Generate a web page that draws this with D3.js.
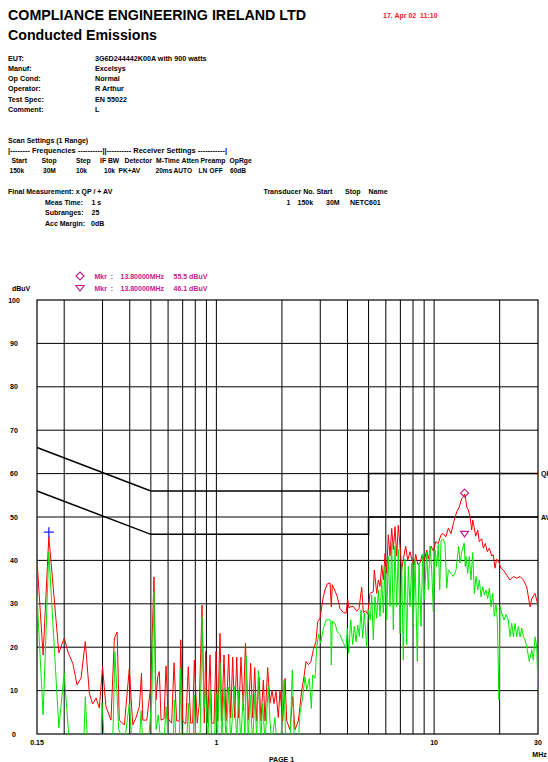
<!DOCTYPE html>
<html>
<head>
<meta charset="utf-8">
<script src="https://cdn.jsdelivr.net/npm/d3@7"></script>
<style>
  body { margin: 0; background: #fff; }
  svg text { font-family: "Liberation Sans", Arial, sans-serif; font-weight: bold; }
</style>
</head>
<body>
<svg id="page" width="548" height="762"></svg>
<script>
// header fields
var infoLabels = ["EUT:", "Manuf:", "Op Cond:", "Operator:", "Test Spec:", "Comment:"];
var infoValues = ["3G6D244442K00A with 900 watts", "Excelsys", "Normal", "R Arthur", "EN 55022", "L"];

// axis ticks
var yTicks = [0, 10, 20, 30, 40, 50, 60, 70, 80, 90, 100];
var xGridMHz = [0.2, 0.3, 0.4, 0.5, 0.6, 0.7, 0.8, 0.9, 1, 2, 3, 4, 5, 6, 7, 8, 9, 10, 20];
var xTickLabels = [0.15, 1, 10, 30];

// EN 55022 class B limits
var limitFreq = [0.15, 0.5, 5, 5, 30];
var qpLimit = [66, 56, 56, 60, 60];
var avLimit = [56, 46, 46, 50, 50];

// peak trace (red)
var pkFreq = [0.15,0.160,0.170,0.189,0.200,0.209,0.219,0.229,0.239,0.250,0.261,0.270,0.280,0.290,0.300,0.311,0.328,0.340,0.350,0.358,
  0.378,0.398,0.413,0.427,0.443,0.453,0.459,0.479,0.499,0.517,0.528,0.538,0.547,0.557,0.575,0.587,0.601,0.623,0.639,0.657,
  0.676,0.686,0.700,0.723,0.743,0.762,0.778,0.792,0.817,0.835,0.859,0.880,0.893,0.912,0.935,0.952,0.975,0.996,1.014,1.039,
  1.058,1.084,1.107,1.139,1.164,1.188,1.214,1.240,1.266,1.297,1.329,1.36,1.401,1.437,1.468,1.500,1.532,1.569,1.603,1.643,
  1.672,1.72,1.763,1.801,1.839,1.878,1.925,1.959,2.017,2.067,2.104,2.178,2.241,2.296,2.379,2.466,2.526,2.58,2.644,2.712,
  2.787,2.867,2.92,2.992,3.046,3.098,3.154,3.232,3.326,3.371,3.406,3.505,3.592,3.697,3.828,3.939,4.01,4.066,4.109,4.255,
  4.411,4.52,4.65,4.73,4.85,4.955,5.076,5.256,5.312,5.45,5.543,5.643,5.745,5.844,5.95,6.058,6.16,6.273,6.386,6.495,
  6.613,6.732,6.847,6.972,7.098,7.219,7.404,7.563,7.749,7.89,8.085,8.232,8.408,8.614,8.828,9.017,9.248,9.407,9.677,9.916,
  10.17,10.45,10.76,11.02,11.31,11.62,11.96,12.25,12.70,13.05,13.39,13.62,13.8,14.0,14.12,14.36,14.62,14.88,15.04,15.25,
  15.52,15.86,16.13,16.54,16.83,17.19,17.55,17.93,18.39,18.70,19.04,19.38,19.86,20.29,20.79,21.55,22.32,23.12,23.96,24.81,
  25.7,26.63,27.58,28.08,29.07,30];
var pkLevel = [40,18.2,45.5,18.7,22.1,18.6,16.3,11.3,12.9,21.3,9.4,6.9,8.3,6,15.5,6.3,3.2,22.1,23.5,3.2,
  2.1,15,2.1,3.7,6.3,14,3.2,3.2,10.9,36.2,7.8,13.2,14.4,3.2,3.5,15.7,3.5,2.5,16.4,3,
  3,21.7,3,2.3,15.5,2.5,2.5,17,2.5,7.1,29.7,2.5,19,2.5,18.2,2.5,2.5,19,3,23.2,
  3,18.2,3,18.4,3.7,17.7,3.7,17.7,3.7,17.7,5.5,20.9,3.2,16.3,3.7,15.3,3,13.2,3,12.4,
  3,15.3,7.1,10.1,7,9.8,3.8,10.1,3,12.8,3,1,8.6,1,3,10.1,13.2,16.7,16,16.5,
  19.4,21.3,25.9,26.6,29.3,31.6,33.2,34.6,34.8,29.3,34.4,33,31.6,28.9,28,27.8,31,29,29.3,29.4,
  28.3,28.9,33.8,28,28.4,27.6,32.4,32.8,37.8,32.4,35.5,34,38.9,35.5,41.6,37,45.9,41,47.4,42.5,
  47.8,41,48.1,43.3,37.8,40.3,43.3,40,42,40.3,39,41.4,39.1,39.4,41.4,39.9,42.4,40.3,43.3,42.2,
  44.3,43.9,45.9,46.2,45.4,47.4,46.2,48.5,51.2,52.3,54.3,54.6,55.3,53.8,52.3,51.6,50.1,47,49.3,47.8,
  45.6,47,44.3,45,42.8,43.9,42,42.8,41,41.3,38.2,40.3,39.5,38.2,37.8,36.6,35.5,36.3,35.9,36.3,
  35.5,33.9,29.3,31.2,32.4,29.6];

// average trace (green)
var avFreq = [0.15,0.160,0.170,0.189,0.200,0.211,0.246,0.250,0.256,0.295,0.298,0.306,0.334,0.342,0.356,0.378,0.398,0.410,0.443,0.451,
  0.459,0.487,0.505,0.517,0.528,0.541,0.555,0.575,0.587,0.601,0.634,0.641,0.652,0.676,0.686,0.695,0.731,0.743,0.756,0.783,
  0.792,0.806,0.841,0.859,0.877,0.893,0.912,0.935,0.952,0.98,0.996,1.01,1.039,1.058,1.084,1.107,1.139,1.164,1.209,1.240,
  1.266,1.293,1.329,1.353,1.37,1.401,1.427,1.468,1.504,1.532,1.558,1.598,1.632,1.672,1.731,1.763,1.796,1.858,1.893,1.974,
  2.045,2.082,2.178,2.232,2.28,2.379,2.421,2.492,2.553,2.6,2.672,2.73,2.77,2.838,2.89,2.951,3.014,3.098,3.189,3.267,
  3.351,3.371,3.406,3.505,3.592,3.697,3.828,3.939,3.993,4.053,4.14,4.227,4.3,4.378,4.458,4.535,4.616,4.699,4.78,4.902,
  4.986,5.093,5.168,5.256,5.352,5.45,5.543,5.643,5.745,5.844,5.95,6.058,6.16,6.273,6.386,6.495,6.613,6.732,6.847,6.972,
  7.098,7.219,7.35,7.484,7.613,7.749,7.89,8.025,8.172,8.372,8.524,8.706,8.865,9.017,9.248,9.407,9.575,9.748,9.916,10.1,
  10.28,10.45,10.61,10.76,11.02,11.22,11.43,11.62,11.96,12.25,12.61,12.78,12.97,13.15,13.39,13.75,13.9,14.01,14.27,14.51,
  14.77,15.04,15.3,15.57,15.86,16.13,16.42,16.72,17.01,17.32,17.63,17.93,18.26,18.59,18.9,19.24,19.51,19.86,20.07,20.43,
  20.93,21.39,21.92,22.32,22.72,23.12,23.53,23.96,24.37,24.81,25.26,25.7,26.16,26.63,27.37,28.08,28.56,29.07,29.6,30];
var avLevel = [32,4.4,42,1.4,14,-2,-2,8.6,-2,-2,7.2,-2,-2,19,1,-2,7,-2,-2,5.4,
  -2,-2,7.8,32.8,1,4.4,-2,-2,6.3,-2,-2,7.8,-2,-2,15.1,-2,-2,7.1,-2,-2,
  9,-2,-2,27,6,10.5,-2,10.3,-2,-2,9.4,-2,16.3,-2,10.5,-2,10.8,-2,11,-2,
  10,-2,9,-2,18,-2,9,-2,9.4,-2,14.6,-2,7.1,-2,10.9,3,-2,3.8,-2,-2,
  12.4,-2,-2,14.7,-2,-2,4.8,8.6,13.2,10.1,12.8,5.9,13.6,12.8,20.1,23,20.9,24.3,26.2,26.4,
  26.2,15.9,26,25.5,23.5,22.9,21,19.7,24.3,18.6,26.3,20.6,24.8,21.3,25.1,22.5,28.6,22,27.9,20.2,
  28.6,26.3,32,21.7,31.6,26.7,33.2,27.1,35.5,27.9,38.6,26.3,41,29.4,44.1,24,43.3,29.4,42.5,23.2,
  38.6,17,40.3,20.6,38.6,29.4,39.4,24.8,40.3,16.7,39.4,24.8,41.4,31,41.8,33.2,43.3,37.8,28.2,42.5,
  38.6,43.7,33.2,44.5,44.9,43.7,33.6,37.8,37,36.3,37.8,40.5,43.2,39.4,42,44,38.6,40.9,37,40.9,
  35.5,41.8,32.4,36.3,33.2,35.5,31.6,33.9,32,33.2,31.2,33.6,29.3,32.4,27.1,30.1,26.3,7.8,29.4,27.9,
  26.3,27.5,26.3,22.4,25.5,22.4,25.5,22.4,24.8,22.4,24.4,22.4,21.7,20.1,16.7,19.4,17,22.4,20.1,10.1];

// final measurement markers
var pkMarker = [0.17, 46.5];
var qpMarker = [13.8, 55.5];
var avMarker = [13.8, 46.1];

var svg = d3.select("#page");
var magenta = "#c4208c";

// ---- header text
svg.append("text").attr("x", 8).attr("y", 19.5).attr("font-size", 15)
  .attr("textLength", 298).attr("lengthAdjust", "spacingAndGlyphs")
  .text("COMPLIANCE ENGINEERING IRELAND LTD");
svg.append("text").attr("x", 8).attr("y", 39.5).attr("font-size", 15)
  .attr("textLength", 149).attr("lengthAdjust", "spacingAndGlyphs")
  .text("Conducted Emissions");
svg.append("text").attr("x", 383).attr("y", 18).attr("font-size", 7)
  .attr("fill", "#f0202a").attr("xml:space", "preserve").text("17. Apr 02  11:10");

svg.selectAll(".info").data(infoLabels).enter().append("text")
  .attr("x", 8).attr("y", function(d, i) { return 60.5 + i * 10.3; })
  .attr("font-size", 7.2).text(function(d) { return d; });
svg.selectAll(".infov").data(infoValues).enter().append("text")
  .attr("x", 95).attr("y", function(d, i) { return 60.5 + i * 10.3; })
  .attr("font-size", 7.2).text(function(d) { return d; });

function txt(x, yy, s, opts) {
  var t = svg.append("text").attr("x", x).attr("y", yy).attr("font-size", 7).text(s);
  if (opts) { for (var k in opts) t.attr(k, opts[k]); }
  return t;
}

txt(8, 142.5, "Scan Settings (1 Range)");
txt(8, 152.5, "|-------- Frequencies ----------||---------- Receiver Settings -----------|",
  {textLength: 219, lengthAdjust: "spacingAndGlyphs"});
var scanHead = [["Start",11.5],["Stop",41.5],["Step",76],["IF BW",100],["Detector",124.5],["M-Time",156],["Atten",181.5],["Preamp",200.5],["OpRge",229.5]];
var scanVals = [["150k",9.5],["30M",43],["10k",76],["10k",104],["PK+AV",118.5],["20ms",155.5],["AUTO",173.5],["LN",198.5],["OFF",209.5],["60dB",230]];
scanHead.forEach(function(d) { txt(d[1], 162.5, d[0], {"font-size": 6.8}); });
scanVals.forEach(function(d) { txt(d[1], 172.5, d[0], {"font-size": 6.6}); });

txt(8, 194, "Final Measurement: x QP / + AV");
txt(45, 204.5, "Meas Time:"); txt(91.5, 204.5, "1 s");
txt(45, 215, "Subranges:"); txt(91.5, 215, "25");
txt(45, 225.5, "Acc Margin:"); txt(91, 225.5, "0dB");

txt(263.5, 194, "Transducer No. Start");
txt(345, 194, "Stop"); txt(368.5, 194, "Name");
txt(286.5, 204.5, "1"); txt(297.5, 204.5, "150k"); txt(326, 204.5, "30M"); txt(350, 204.5, "NETC601");

// ---- marker legend
svg.append("path").attr("d", d3.symbol().type(d3.symbolDiamond2).size(40)())
  .attr("transform", "translate(80,276)").attr("fill", "none").attr("stroke", magenta).attr("stroke-width", 1.2);
svg.append("path").attr("d", "M-4,-2.5L4,-2.5L0,3Z")
  .attr("transform", "translate(80,288)").attr("fill", "none").attr("stroke", magenta).attr("stroke-width", 1.2);
[[279, qpMarker], [290.5, avMarker]].forEach(function(r) {
  txt(94.5, r[0], "Mkr  :", {fill: magenta, "xml:space": "preserve"});
  txt(120.5, r[0], r[1][0].toFixed(5) + "MHz", {fill: magenta});
  txt(173.5, r[0], r[1][1].toFixed(1) + " dBuV", {fill: magenta});
});

// ---- plot
var x = d3.scaleLog().domain([0.15, 30]).range([37, 538]);
var y = d3.scaleLinear().domain([0, 100]).range([734, 300]);

txt(12, 290.5, "dBuV");

var grid = svg.append("g").attr("stroke", "#000").attr("stroke-width", 1);
grid.selectAll(".gx").data(xGridMHz).enter().append("line")
  .attr("x1", function(d) { return x(d); }).attr("x2", function(d) { return x(d); })
  .attr("y1", y(0)).attr("y2", y(100));
grid.selectAll(".gy").data(yTicks.slice(1, -1)).enter().append("line")
  .attr("x1", x(0.15)).attr("x2", x(30))
  .attr("y1", function(d) { return y(d); }).attr("y2", function(d) { return y(d); });
svg.append("rect").attr("x", x(0.15)).attr("y", y(100))
  .attr("width", x(30) - x(0.15)).attr("height", y(0) - y(100))
  .attr("fill", "none").attr("stroke", "#000").attr("stroke-width", 1.2);

svg.selectAll(".yl").data(yTicks).enter().append("text")
  .attr("x", 14).attr("y", function(d) { return y(d) + 2.5; })
  .attr("text-anchor", "middle").attr("font-size", 7)
  .text(function(d) { return d; });
svg.selectAll(".xl").data(xTickLabels).enter().append("text")
  .attr("x", function(d) { return x(d); }).attr("y", 745)
  .attr("text-anchor", "middle").attr("font-size", 7)
  .text(function(d) { return d; });
txt(539.5, 756.5, "MHz", {"text-anchor": "middle"});
txt(281.5, 761.5, "PAGE 1", {"text-anchor": "middle"});

svg.append("clipPath").attr("id", "plotclip").append("rect")
  .attr("x", x(0.15)).attr("y", y(100)).attr("width", x(30) - x(0.15)).attr("height", y(0) - y(100));

var line = d3.line().x(function(d) { return x(d[0]); }).y(function(d) { return y(d[1]); });

// limit lines
[qpLimit, avLimit].forEach(function(lim) {
  svg.append("path").datum(d3.zip(limitFreq, lim))
    .attr("d", line).attr("fill", "none").attr("stroke", "#000").attr("stroke-width", 1.5);
});
// labels run off the page edge, as on the original print
txt(541, y(60) + 2.5, "QP");
txt(541, y(50) + 2.5, "AV");

var traces = svg.append("g").attr("clip-path", "url(#plotclip)");
traces.append("path").datum(d3.zip(pkFreq, pkLevel))
  .attr("d", line).attr("fill", "none").attr("stroke", "#ff0000").attr("stroke-width", 1);
traces.append("path").datum(d3.zip(avFreq, avLevel))
  .attr("d", line).attr("fill", "none").attr("stroke", "#00e800").attr("stroke-width", 1);

// markers on the plot
svg.append("path").attr("d", "M-5,0H5M0,-5V5")
  .attr("transform", "translate(" + x(pkMarker[0]) + "," + y(pkMarker[1]) + ")")
  .attr("stroke", "#2222ff").attr("stroke-width", 1.3);
svg.append("path").attr("d", d3.symbol().type(d3.symbolDiamond2).size(40)())
  .attr("transform", "translate(" + x(qpMarker[0]) + "," + y(qpMarker[1]) + ")")
  .attr("fill", "none").attr("stroke", magenta).attr("stroke-width", 1.2);
svg.append("path").attr("d", "M-4,-2.5L4,-2.5L0,3Z")
  .attr("transform", "translate(" + x(avMarker[0]) + "," + y(avMarker[1]) + ")")
  .attr("fill", "none").attr("stroke", magenta).attr("stroke-width", 1.2);
</script>
</body>
</html>
